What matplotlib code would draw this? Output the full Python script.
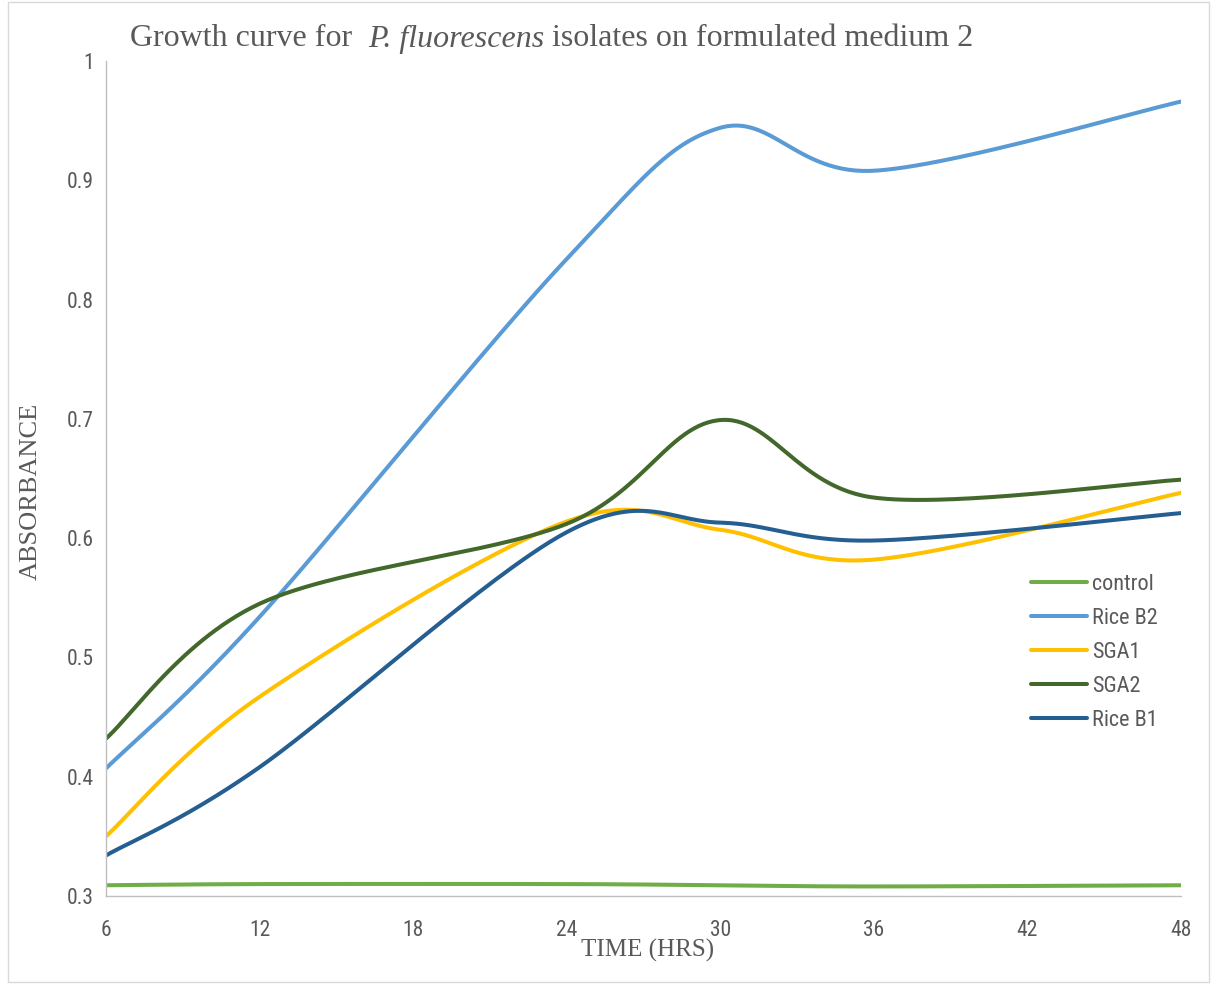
import numpy as np
import matplotlib
matplotlib.use("Agg")
import matplotlib.pyplot as plt
from matplotlib.font_manager import findfont, FontProperties

hours = [6, 12, 24, 30, 36, 48]
control = [0.309, 0.310, 0.310, 0.309, 0.308, 0.309]
rice_b2 = [0.407, 0.534, 0.834, 0.944, 0.908, 0.966]
sga1 = [0.350, 0.467, 0.614, 0.607, 0.582, 0.638]
sga2 = [0.432, 0.545, 0.612, 0.699, 0.634, 0.649]
rice_b1 = [0.334, 0.408, 0.605, 0.613, 0.598, 0.621]

series_names = ["control", "Rice B2", "SGA1", "SGA2", "Rice B1"]
series_values = [control, rice_b2, sga1, sga2, rice_b1]
series_colors = ["#70AD47", "#5B9BD5", "#FFC000", "#43682B", "#255E91"]
x_ticks = [6, 12, 18, 24, 30, 36, 42, 48]
y_ticks = [0.3, 0.4, 0.5, 0.6, 0.7, 0.8, 0.9, 1.0]
y_tick_labels = ["0.3", "0.4", "0.5", "0.6", "0.7", "0.8", "0.9", "1"]


def smooth(xs, ys, n=60):
    """Excel-style smoothed line (cubic Bezier with Catmull-Rom control points)."""
    p = np.column_stack([xs, ys]).astype(float)
    ext = np.vstack([p[0], p, p[-1]])
    out = []
    for i in range(len(p) - 1):
        p0, p1, p2, p3 = ext[i], ext[i + 1], ext[i + 2], ext[i + 3]
        c1 = p1 + (p2 - p0) / 6.0
        c2 = p2 - (p3 - p1) / 6.0
        t = np.linspace(0, 1, n)[:, None]
        seg = ((1 - t) ** 3) * p1 + 3 * ((1 - t) ** 2) * t * c1 + 3 * (1 - t) * t ** 2 * c2 + t ** 3 * p2
        out.append(seg if i == 0 else seg[1:])
    s = np.vstack(out)
    return s[:, 0], s[:, 1]


def pick(names):
    for nm in names:
        try:
            findfont(FontProperties(family=nm), fallback_to_default=False)
            return nm
        except Exception:
            continue
    return "DejaVu Sans"


sans = pick(["Liberation Sans Narrow", "Roboto Condensed", "Open Sans", "Liberation Sans"])
serif = "Liberation Serif"
grey = "#595959"

W, H = 1211, 986
fig = plt.figure(figsize=(W / 100, H / 100), dpi=100)
ax = fig.add_axes([106 / W, (H - 896) / H, (1181 - 106) / W, (896 - 61) / H])

for name, vals, col in zip(series_names, series_values, series_colors):
    sx, sy = smooth(hours, vals)
    ax.plot(sx, sy, color=col, lw=2.9, label=name, solid_capstyle="round")

ax.set_xlim(6, 48)
ax.set_ylim(0.3, 1.0)
ax.set_xticks(x_ticks)
ax.set_xticklabels([str(v) for v in x_ticks])
ax.set_yticks(y_ticks)
ax.set_yticklabels(y_tick_labels)
ax.tick_params(length=0, colors=grey, labelsize=15.5)
ax.tick_params(axis="y", pad=9)
ax.tick_params(axis="x", pad=17)
for lbl in ax.get_xticklabels() + ax.get_yticklabels():
    lbl.set_family(sans)
for sp in ["top", "right"]:
    ax.spines[sp].set_visible(False)
for sp in ["left", "bottom"]:
    ax.spines[sp].set_color("#BFBFBF")
    ax.spines[sp].set_linewidth(1.0)

# title with mixed italics
parts = [("Growth curve for  ", "normal"), ("P. fluorescens", "italic"),
         (" isolates on formulated medium 2", "normal")]
fig.canvas.draw()
renderer = fig.canvas.get_renderer()
xpos = 130
for txt, style in parts:
    t = fig.text(xpos / W, 1 - 39 / H, txt, family=serif, style=style, fontsize=23,
                 color=grey, va="center", ha="left")
    bb = t.get_window_extent(renderer=renderer)
    xpos += bb.width

fig.text(31 / W, 1 - 491 / H, "ABSORBANCE", family=serif, fontsize=19, color=grey,
         rotation=90, ha="center", va="center")
fig.text(648 / W, 1 - 950 / H, "TIME (HRS)", family=serif, fontsize=18, color=grey,
         ha="center", va="center")

leg = ax.legend(loc="upper left",
                bbox_to_anchor=((1031 - 106) / (1181 - 106), (896 - 574) / (896 - 61)),
                frameon=False, handlelength=2.5, handletextpad=0.25, labelspacing=0.58,
                borderpad=0, borderaxespad=0,
                prop={"family": sans, "size": 16})
for t in leg.get_texts():
    t.set_color(grey)

fig.patches.append(plt.Rectangle((8 / W, 4 / H), (W - 10) / W, (H - 6) / H, transform=fig.transFigure,
                                 fill=False, edgecolor="#D9D9D9", lw=1.0))

fig.savefig("out.png", dpi=100)
